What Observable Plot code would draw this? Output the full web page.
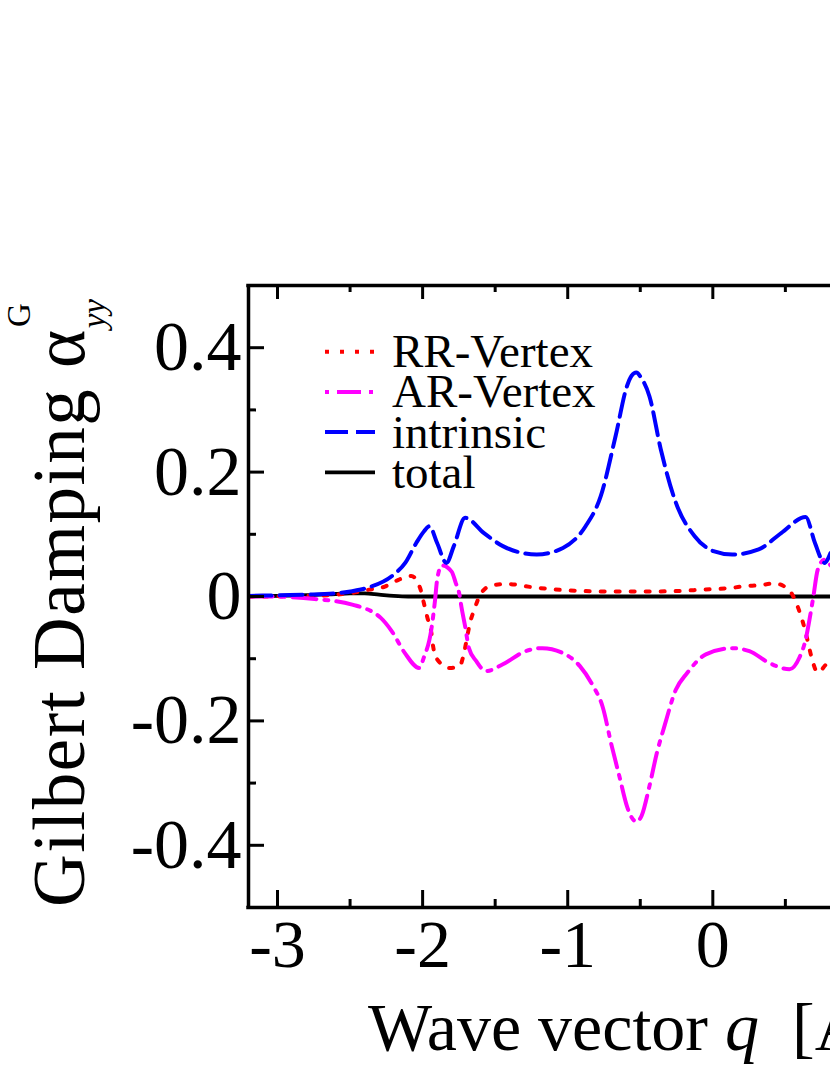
<!DOCTYPE html>
<html>
<head>
<meta charset="utf-8">
<script src="https://cdn.jsdelivr.net/npm/d3@7"></script>
<script src="https://cdn.jsdelivr.net/npm/@observablehq/plot@0.6"></script>
<style>
  html, body { margin: 0; padding: 0; background: #fff; overflow: hidden; }
  #chart svg { display: block; }
</style>
</head>
<body>
<div id="chart"></div>
<script>
// ---- data ----
const intrinsicQ = [-3.2, -3.0, -2.8, -2.6, -2.485, -2.38, -2.2, -2.12, -2.044, -1.99, -1.953, -1.90, -1.836, -1.785, -1.707, -1.577, -1.447, -1.214, -1.033, -0.877, -0.773, -0.67, -0.592, -0.56, -0.527, -0.495, -0.437, -0.358, -0.255, -0.125, 0.004, 0.134, 0.316, 0.471, 0.64, 0.704, 0.769, 0.811];
const intrinsicA = [0.001, 0.002, 0.003, 0.005, 0.0085, 0.014, 0.035, 0.054, 0.086, 0.105, 0.113, 0.086, 0.054, 0.081, 0.1265, 0.102, 0.081, 0.0675, 0.078, 0.113, 0.161, 0.258, 0.338, 0.355, 0.36, 0.352, 0.322, 0.236, 0.151, 0.097, 0.073, 0.0675, 0.0756, 0.102, 0.128, 0.086, 0.054, 0.07];

const rrQ = [-3.2, -2.8, -2.6, -2.45, -2.368, -2.26, -2.174, -2.078, -2.018, -1.992, -1.967, -1.94, -1.927, -1.90, -1.81, -1.746, -1.712, -1.694, -1.673, -1.642, -1.603, -1.526, -1.422, -1.214, -1.007, -0.695, -0.488, -0.28, -0.073, 0.134, 0.218, 0.321, 0.424, 0.523, 0.574, 0.608, 0.638, 0.661, 0.684, 0.723, 0.792, 0.811];
const rrA = [0, 0.001, 0.003, 0.007, 0.011, 0.016, 0.026, 0.033, 0.014, -0.010, -0.034, -0.058, -0.081, -0.101, -0.115, -0.112, -0.088, -0.066, -0.042, -0.020, 0.003, 0.0177, 0.020, 0.014, 0.010, 0.008, 0.008, 0.0085, 0.011, 0.014, 0.0166, 0.018, 0.021, 0.011, -0.010, -0.032, -0.056, -0.079, -0.101, -0.122, -0.107, -0.105];

const arQ = [-3.2, -3.08, -2.744, -2.485, -2.29, -2.212, -2.122, -2.023, -1.993, -1.94, -1.914, -1.90, -1.868, -1.80, -1.772, -1.746, -1.733, -1.707, -1.681, -1.63, -1.564, -1.447, -1.292, -1.175, -1.033, -0.916, -0.825, -0.761, -0.696, -0.644, -0.592, -0.56, -0.525, -0.49, -0.437, -0.385, -0.333, -0.255, -0.177, -0.048, 0.134, 0.252, 0.39, 0.528, 0.597, 0.64, 0.67, 0.693, 0.723, 0.769, 0.811];
const arA = [0, 0, -0.004, -0.013, -0.034, -0.056, -0.091, -0.115, -0.099, -0.053, -0.005, 0.027, 0.05, 0.04, 0.022, 0.003, -0.016, -0.048, -0.083, -0.104, -0.12, -0.109, -0.088, -0.083, -0.091, -0.112, -0.144, -0.176, -0.241, -0.289, -0.337, -0.355, -0.362, -0.352, -0.305, -0.251, -0.208, -0.15, -0.123, -0.093, -0.083, -0.088, -0.107, -0.117, -0.098, -0.069, -0.032, 0, 0.043, 0.059, 0.05];

const totalQ = [-3.2, -3.0, -2.8, -2.6, -2.5, -2.4, -2.3, -2.2, -2.1, -1.5, 0, 0.811];
const totalA = [0, 0.001, 0.002, 0.004, 0.005, 0.005, 0.003, 0.001, 0, 0, 0, 0];

const xMajor = [-3, -2, -1, 0];
const xMinor = [-2.5, -1.5, -0.5, 0.5];
const yMajor = [-0.4, -0.2, 0, 0.2, 0.4];
const yMinor = [-0.3, -0.1, 0.1, 0.3];
const xDomain = [-3.2, 0.811];
const yDomain = [-0.5, 0.5];

const legendLabels = ["RR-Vertex", "AR-Vertex", "intrinsic", "total"];

// ---- layout / styles ----
const W = 830, H = 1075, mT = 285, mB = 168, mL = 248, mR = 0;
const plotH = H - mT - mB, plotW = W - mL - mR;
const font = "'Liberation Serif', 'Times New Roman', Times, serif";

const sRR = {stroke: "#ff0000", strokeWidth: 4, strokeDasharray: "4 11"};
const sAR = {stroke: "#ff00ff", strokeWidth: 4, strokeDasharray: "24 8 4 8"};
const sIN = {stroke: "#0000ff", strokeWidth: 4, strokeDasharray: "23 8"};
const sTO = {stroke: "#000000", strokeWidth: 3.8};
const legendStyles = [
  {...sRR, dashLegend: "4 11"},
  {...sAR, dashLegend: "4 8 24 8 4"},
  {...sIN, dashLegend: "23 8"},
  {...sTO, dashLegend: null}
];

const rows = (qs, as) => qs.map((q, i) => ({q, a: as[i]}));

function legendMark(index, scales, values, dims) {
  const g = d3.create("svg:g").attr("text-anchor", "start");
  const x0 = dims.marginLeft + 77, x1 = dims.marginLeft + 127, xt = dims.marginLeft + 144;
  legendLabels.forEach((lab, i) => {
    const y = dims.marginTop + 66.7 + i * 40.2;
    const st = legendStyles[i];
    g.append("line").attr("x1", x0).attr("x2", x1).attr("y1", y).attr("y2", y)
      .attr("stroke", st.stroke).attr("stroke-width", st.strokeWidth)
      .attr("stroke-dasharray", st.dashLegend);
    g.append("text").attr("x", xt).attr("y", y).attr("dy", "0.33em")
      .attr("text-anchor", "start")
      .attr("font-size", 47).attr("fill", "black").text(lab);
  });
  return g.node();
}

function titlesMark(index, scales, values, dims) {
  const g = d3.create("svg:g").attr("fill", "black").attr("text-anchor", "start");
  // y-axis title (rotated)
  const yt = g.append("text")
    .attr("text-anchor", "start")
    .attr("transform", `translate(84,${dims.height - dims.marginBottom}) rotate(-90)`)
    .attr("font-size", 73)
    .attr("letter-spacing", 1.5);
  yt.append("tspan").text("Gilbert Damping \u03B1");
  yt.append("tspan").attr("font-size", 33).attr("font-style", "italic").attr("letter-spacing", 0).attr("dy", 21).text("yy");
  yt.append("tspan").attr("font-size", 33).attr("letter-spacing", 0).attr("dx", -28).attr("dy", -75).text("G");
  // x-axis title
  const xt = g.append("text")
    .attr("text-anchor", "start")
    .attr("x", dims.marginLeft + 120)
    .attr("y", dims.height - 25)
    .attr("font-size", 68);
  xt.append("tspan").text("Wave vector ");
  xt.append("tspan").attr("font-style", "italic").text("q");
  xt.append("tspan").attr("dx", 16).text(" [\u00C5");
  xt.append("tspan").attr("font-size", 40).attr("dy", -30).text("-1");
  xt.append("tspan").attr("dy", 30).text("]");
  return g.node();
}

const chart = Plot.plot({
  width: W,
  height: H,
  marginTop: mT,
  marginBottom: mB,
  marginLeft: mL,
  marginRight: mR,
  style: {fontFamily: font, background: "white", color: "black"},
  x: {domain: xDomain, axis: null},
  y: {domain: yDomain, axis: null},
  marks: [
    // series
    Plot.line(rows(totalQ, totalA), {x: "q", y: "a", ...sTO, curve: "monotone-x", clip: true}),
    Plot.line(rows(rrQ, rrA), {x: "q", y: "a", ...sRR, curve: "monotone-x", clip: true}),
    Plot.line(rows(arQ, arA), {x: "q", y: "a", ...sAR, curve: "monotone-x", clip: true}),
    Plot.line(rows(intrinsicQ, intrinsicA), {x: "q", y: "a", ...sIN, curve: "monotone-x", clip: true}),
    // frame (left, top, bottom)
    Plot.ruleX([xDomain[0]], {strokeWidth: 3.5}),
    Plot.ruleY(yDomain, {strokeWidth: 3.5, strokeLinecap: "square"}),
    // ticks inward: bottom & top
    Plot.ruleX(xMajor, {strokeWidth: 3, insetTop: plotH - 17}),
    Plot.ruleX(xMajor, {strokeWidth: 3, insetBottom: plotH - 14}),
    Plot.ruleX(xMinor, {strokeWidth: 3, insetTop: plotH - 8}),
    Plot.ruleX(xMinor, {strokeWidth: 3, insetBottom: plotH - 7}),
    // ticks inward: left
    Plot.ruleY(yMajor, {strokeWidth: 3, insetRight: plotW - 16}),
    Plot.ruleY(yMinor, {strokeWidth: 3, insetRight: plotW - 8}),
    // tick labels
    Plot.axisX(xMajor, {tickSize: 0, tickPadding: 11, fontSize: 68, tickFormat: d => String(d), fill: "black", label: null}),
    Plot.axisY(yMajor, {tickSize: 0, tickPadding: 7, fontSize: 70, tickFormat: d => String(d), fill: "black", label: null}),
    legendMark,
    titlesMark
  ]
});
document.getElementById("chart").appendChild(chart);
</script>
</body>
</html>
